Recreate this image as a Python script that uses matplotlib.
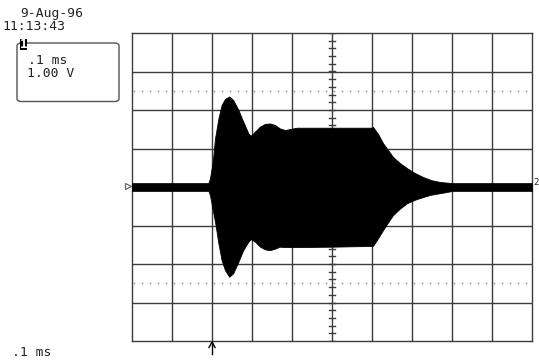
import numpy as np
import matplotlib
matplotlib.use("Agg")
import matplotlib.pyplot as plt
from matplotlib.patches import FancyBboxPatch, Rectangle

# envelope of the captured burst (time in ms from trigger, amplitude in V)
t_ms = [-0.2, -0.009, -0.005, 0.002, 0.0075, 0.016, 0.024, 0.0325, 0.043, 0.053,
        0.066, 0.078, 0.091, 0.097, 0.1075, 0.12, 0.1325, 0.145, 0.1575, 0.17,
        0.1825, 0.212, 0.30, 0.399, 0.4025, 0.415, 0.4275, 0.44, 0.4525, 0.47,
        0.4875, 0.5075, 0.5275, 0.5475, 0.57, 0.6025, 0.8]
upper_v = [0.1, 0.1, 0.23, 0.66, 1.26, 1.78, 2.13, 2.29, 2.35, 2.26,
           2.0, 1.70, 1.39, 1.33, 1.44, 1.57, 1.64, 1.65, 1.61, 1.52,
           1.48, 1.54, 1.54, 1.54, 1.56, 1.38, 1.14, 0.96, 0.78, 0.62,
           0.49, 0.36, 0.26, 0.18, 0.13, 0.1, 0.1]
lower_v = [0.1, 0.1, 0.21, 0.6, 0.9, 1.46, 1.9, 2.16, 2.33, 2.24,
           1.94, 1.64, 1.42, 1.35, 1.42, 1.55, 1.62, 1.64, 1.60, 1.55,
           1.56, 1.56, 1.55, 1.53, 1.53, 1.33, 1.12, 0.92, 0.73, 0.56,
           0.42, 0.33, 0.26, 0.2, 0.16, 0.1, 0.1]

date_txt = "9-Aug-96"
time_txt = "11:13:43"
timebase = ".1 ms"
volts_div = "1.00 V"

W, H = 539, 360
fig = plt.figure(figsize=(W / 100, H / 100), dpi=100)

def fx(x):
    return x / W

def fy(y):
    return 1 - y / H

# plot area in pixels: x 132..532, y 33..341
ax = fig.add_axes([fx(132), fy(341), 400 / W, 308 / H])
ax.set_xlim(-0.2, 0.8)
ax.set_ylim(-4, 4)
ax.set_xticks([])
ax.set_yticks([])
grid_c = "#3c3c3c"
for s in ax.spines.values():
    s.set_color(grid_c)
    s.set_linewidth(1.0)

for xv in np.arange(-0.1, 0.8, 0.1):
    ax.axvline(xv, color=grid_c, lw=1.0, zorder=1)
for yv in range(-3, 4):
    ax.axhline(yv, color=grid_c, lw=1.0, zorder=1)

# minor ticks on the centre cross
for yv in np.arange(-4, 4.01, 0.2):
    ax.plot([0.2925, 0.3075], [yv, yv], color=grid_c, lw=1.0, zorder=1)
for xv in np.arange(-0.2, 0.801, 0.02):
    ax.plot([xv, xv], [-0.08, 0.08], color=grid_c, lw=1.0, zorder=1)

# dotted reference lines
dots_x = np.arange(-0.2, 0.8, 0.02) + 0.005
for yv in (2.5, -2.5):
    ax.plot(dots_x, np.full_like(dots_x, yv), ls="none", marker="s", ms=1.1,
            color="#8c8c8c", mew=0, zorder=1)

# signal
t = np.array(t_ms)
ax.fill_between(t, np.array(upper_v), -np.array(lower_v), color="black",
                lw=0.6, edgecolor="black", zorder=3)

# ground marker on the left
ax.plot([-0.2 - 0.011], [0.02], marker=">", ms=4.5, mfc="white", mec="#666",
        mew=0.9, clip_on=False, zorder=4)

mono = "DejaVu Sans Mono"
tc = "#222222"
fs = 9.4
fig.text(fx(20.5), fy(16.7), date_txt, family=mono, size=fs, color=tc, va="baseline")
fig.text(fx(2.5), fy(29.5), time_txt, family=mono, size=fs, color=tc, va="baseline")

box = FancyBboxPatch((fx(17), fy(101.5)), fx(102), 58.5 / H,
                     boxstyle="round,pad=0,rounding_size=0.008",
                     transform=fig.transFigure, fc="none", ec="#555555", lw=1.0)
fig.add_artist(box)
fig.add_artist(Rectangle((fx(19.5), fy(50)), fx(7.5), 11 / H,
                         transform=fig.transFigure, fc="black", ec="none"))
fig.text(fx(23.3), fy(48.5), "1", family=mono, size=9, color="white",
         weight="bold", ha="center", va="baseline")
fig.text(fx(28), fy(63.5), timebase, family=mono, size=fs, color=tc, va="baseline")
fig.text(fx(27), fy(77), volts_div, family=mono, size=fs, color=tc, va="baseline")

fig.text(fx(12.5), fy(356.5), timebase, family=mono, size=fs, color=tc, va="baseline")

# trigger arrow under the grid
fig.add_artist(plt.Line2D([fx(212), fx(212)], [fy(354), fy(342)],
                          transform=fig.transFigure, color="black", lw=1.0))
fig.add_artist(plt.Line2D([fx(209), fx(212), fx(215)], [fy(347.5), fy(342), fy(347.5)],
                          transform=fig.transFigure, color="black", lw=1.0))

# channel marker at the right edge
fig.text(fx(533), fy(185), "2", family=mono, size=6.5, color=tc,
         va="baseline")

fig.savefig("out.png", dpi=100)
